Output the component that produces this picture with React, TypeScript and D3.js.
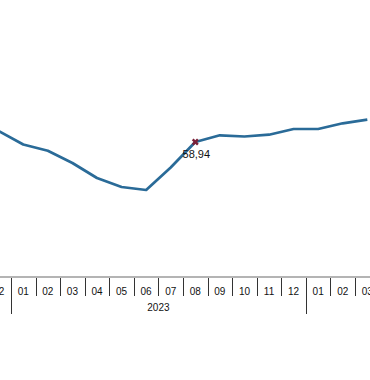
import React, { useEffect, useRef } from "react";
import * as d3 from "d3";

// monthly series, Dec 2022 .. Mar 2024
const months = ["12", "01", "02", "03", "04", "05", "06", "07", "08", "09", "10", "11", "12", "01", "02", "03"];
const years = [2022, 2023, 2023, 2023, 2023, 2023, 2023, 2023, 2023, 2023, 2023, 2023, 2023, 2024, 2024, 2024];
const values = [61.14, 58.44, 57.2, 54.74, 51.74, 49.94, 49.34, 53.84, 58.94, 60.28, 60.04, 60.4, 61.54, 61.54, 62.68, 63.4];
const labelled = [8]; // index of the point with a value label

const width = 370;
const height = 380;

function LineChart() {
  const ref = useRef<SVGSVGElement>(null);

  useEffect(() => {
    const svg = d3.select(ref.current);
    svg.selectAll("*").remove();

    const idx = months.map((_, i) => i);
    const x = d3.scaleBand<number>()
      .domain(idx)
      .range([-13.6, 379.6])
      .padding(0);
    const bw = x.bandwidth();
    const cx = (i: number) => (x(i) as number) + bw / 2;

    const y = d3.scaleLinear().domain([40, 70]).range([236.7, 86.7]);

    const axisY = 277;

    // axis baseline
    svg.append("line")
      .attr("x1", 0).attr("x2", width)
      .attr("y1", axisY).attr("y2", axisY)
      .attr("stroke", "#b4b4b4")
      .attr("stroke-width", 2);

    // month separators, longer at the start of a year
    const g = svg.append("g");
    idx.forEach((i) => {
      if (i === 0) return;
      const xs = Math.round(x(i) as number) + 0.5;
      const newYear = years[i] !== years[i - 1];
      g.append("line")
        .attr("x1", xs).attr("x2", xs)
        .attr("y1", axisY + 1)
        .attr("y2", newYear ? 314 : 296)
        .attr("stroke", "#333")
        .attr("stroke-width", 1);
    });

    g.selectAll("text.month")
      .data(idx)
      .join("text")
      .attr("class", "month")
      .attr("x", (i) => cx(i))
      .attr("y", 295)
      .attr("text-anchor", "middle")
      .attr("font-family", "Arial, 'Liberation Sans', sans-serif")
      .attr("font-size", 10)
      .attr("fill", "#111")
      .text((i) => months[i]);

    // year label sits in the middle of its twelve-month block
    const yearList = Array.from(new Set(years));
    yearList.forEach((yr) => {
      const first = years.indexOf(yr);
      const m = +months[first];
      const start = (x(first) as number) - (m - 1) * bw;
      const mid = start + 6 * bw;
      if (mid < 0 || mid > width) return;
      g.append("text")
        .attr("x", mid)
        .attr("y", 311)
        .attr("text-anchor", "middle")
        .attr("font-family", "Arial, 'Liberation Sans', sans-serif")
        .attr("font-size", 10)
        .attr("fill", "#111")
        .text(yr);
    });

    const line = d3.line<number>()
      .x((i) => cx(i))
      .y((i) => y(values[i]));

    svg.append("path")
      .datum(idx)
      .attr("fill", "none")
      .attr("stroke", "#2a6b98")
      .attr("stroke-width", 2.7)
      .attr("stroke-linejoin", "round")
      .attr("d", line);

    labelled.forEach((i) => {
      svg.append("path")
        .attr("transform", `translate(${cx(i)},${y(values[i])}) rotate(45)`)
        .attr("d", d3.symbol(d3.symbolCross, 30)())
        .attr("fill", "#7a2038");
      svg.append("text")
        .attr("x", cx(i) + 1)
        .attr("y", y(values[i]) + 16)
        .attr("text-anchor", "middle")
        .attr("font-family", "Arial, 'Liberation Sans', sans-serif")
        .attr("font-size", 11)
        .attr("fill", "#111")
        .text(values[i].toFixed(2).replace(".", ","));
    });
  }, []);

  return (
    <svg
      ref={ref}
      width={width}
      height={height}
      style={{ position: "absolute", left: 0, top: 0, background: "#fff", display: "block" }}
    />
  );
}

export default function App() {
  return <LineChart />;
}
